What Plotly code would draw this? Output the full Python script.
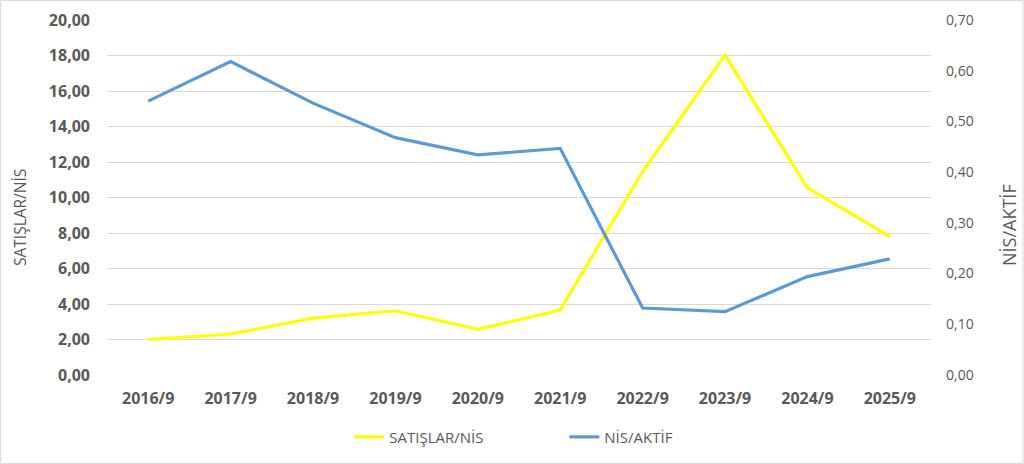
import plotly.graph_objects as go

categories = ["2016/9", "2017/9", "2018/9", "2019/9", "2020/9", "2021/9", "2022/9", "2023/9", "2024/9", "2025/9"]
satislar_nis = [2.0, 2.31, 3.2, 3.62, 2.57, 3.66, 11.46, 18.02, 10.55, 7.8]
nis_aktif = [0.540, 0.618, 0.536, 0.468, 0.434, 0.447, 0.132, 0.125, 0.194, 0.229]

left_ticks = [0, 2, 4, 6, 8, 10, 12, 14, 16, 18, 20]
right_ticks = [0, 0.1, 0.2, 0.3, 0.4, 0.5, 0.6, 0.7]

FONT = "Open Sans"
GRAY = "#595959"

fig = go.Figure()
fig.add_trace(go.Scatter(x=categories, y=satislar_nis, name="SATIŞLAR/NİS", mode="lines",
                         line=dict(color="#FFFF00", width=3.2), yaxis="y"))
fig.add_trace(go.Scatter(x=categories, y=nis_aktif, name="NİS/AKTİF", mode="lines",
                         line=dict(color="#5B9BD5", width=3.2), yaxis="y2"))

fig.update_layout(
    width=1024, height=464,
    margin=dict(l=107, r=93, t=20, b=89, autoexpand=False),
    paper_bgcolor="white", plot_bgcolor="white",
    separators=",.",
    font=dict(family=FONT, color=GRAY),
    showlegend=True,
    legend=dict(orientation="h", x=0.555, xanchor="center", y=-0.175, yanchor="middle",
                font=dict(size=15, color=GRAY, family=FONT), bgcolor="rgba(0,0,0,0)",
                entrywidth=170, entrywidthmode="pixels"),
    xaxis=dict(type="category", range=[-0.5, 9.5], showgrid=False, showline=False,
               ticks="", automargin=False,
               tickfont=dict(size=16, color=GRAY, family=FONT, weight="bold"),
               ticklabelstandoff=12),
    yaxis=dict(range=[0, 20], tickvals=left_ticks, tickformat=".2f", showgrid=True,
               gridcolor="#D9D9D9", gridwidth=1, zeroline=False, showline=False, ticks="",
               automargin=False,
               tickfont=dict(size=16, color=GRAY, family=FONT, weight="bold"),
               ticklabelstandoff=16),
    yaxis2=dict(range=[0, 0.7], tickvals=right_ticks, tickformat=".2f", overlaying="y", side="right",
                showgrid=False, zeroline=False, showline=False, ticks="", automargin=False,
                tickfont=dict(size=14, color=GRAY, family=FONT),
                ticklabelstandoff=14),
)

# axis titles
fig.add_annotation(text="SATIŞLAR/NİS", textangle=-90, xref="paper", yref="paper",
                   x=(20 - 107) / 824, y=(375 - 218) / 355, xanchor="center", yanchor="middle",
                   showarrow=False, font=dict(size=15.5, color=GRAY, family=FONT))
fig.add_annotation(text="NİS/AKTİF", textangle=-90, xref="paper", yref="paper",
                   x=(1009 - 107) / 824, y=(375 - 225) / 355, xanchor="center", yanchor="middle",
                   showarrow=False, font=dict(size=18, color=GRAY, family=FONT))

# outer chart border
fig.add_shape(type="rect", xref="paper", yref="paper",
              x0=(-107 + 0.5) / 824, x1=(824 + 93 - 1) / 824,
              y0=(-89 + 0.5) / 355, y1=(355 + 20 - 0.5) / 355,
              line=dict(color="#D9D9D9", width=1), layer="below")

fig.write_html("out.html")
